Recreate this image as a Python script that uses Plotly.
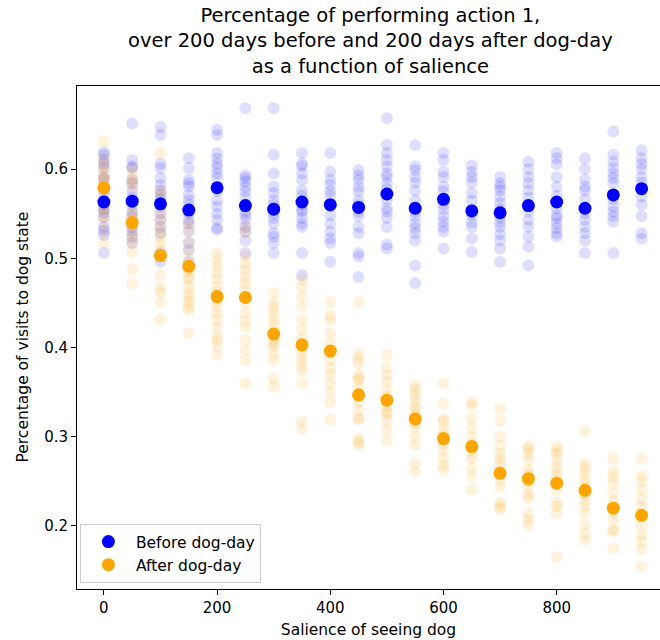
import plotly.graph_objects as go

salience = [0, 50, 100, 150, 200, 250, 300, 350, 400, 450,
            500, 550, 600, 650, 700, 750, 800, 850, 900, 950]

before_mean = [0.563, 0.564, 0.561, 0.554, 0.579, 0.559, 0.555, 0.563, 0.560, 0.557,
               0.572, 0.556, 0.566, 0.553, 0.551, 0.559, 0.563, 0.556, 0.571, 0.578]
after_mean = [0.579, 0.540, 0.503, 0.491, 0.457, 0.456, 0.415, 0.403, 0.396, 0.347,
              0.341, 0.320, 0.298, 0.289, 0.259, 0.253, 0.248, 0.240, 0.220, 0.212]

before_runs = [
    [0.619, 0.616, 0.610, 0.606, 0.601, 0.591, 0.588, 0.578, 0.573, 0.565, 0.559, 0.555, 0.551, 0.546, 0.535, 0.531, 0.526, 0.506],
    [0.651, 0.610, 0.603, 0.601, 0.588, 0.584, 0.575, 0.568, 0.560, 0.552, 0.547, 0.540, 0.535, 0.530, 0.524, 0.517],
    [0.647, 0.638, 0.606, 0.601, 0.590, 0.582, 0.576, 0.571, 0.566, 0.558, 0.550, 0.543, 0.535, 0.528, 0.506, 0.496],
    [0.612, 0.601, 0.588, 0.584, 0.580, 0.571, 0.565, 0.560, 0.550, 0.543, 0.539, 0.530, 0.517, 0.509, 0.496],
    [0.644, 0.638, 0.618, 0.612, 0.606, 0.601, 0.595, 0.590, 0.575, 0.565, 0.558, 0.550, 0.543, 0.534, 0.532],
    [0.668, 0.593, 0.590, 0.586, 0.580, 0.575, 0.568, 0.560, 0.552, 0.548, 0.543, 0.535, 0.530, 0.520, 0.506],
    [0.668, 0.616, 0.595, 0.580, 0.573, 0.565, 0.560, 0.550, 0.545, 0.539, 0.528, 0.524, 0.517, 0.506],
    [0.618, 0.606, 0.603, 0.595, 0.588, 0.576, 0.570, 0.560, 0.554, 0.552, 0.545, 0.539, 0.535, 0.506, 0.481],
    [0.618, 0.597, 0.588, 0.582, 0.575, 0.570, 0.558, 0.548, 0.539, 0.530, 0.522, 0.517, 0.496],
    [0.599, 0.593, 0.588, 0.580, 0.575, 0.565, 0.560, 0.552, 0.547, 0.535, 0.528, 0.506, 0.502, 0.479],
    [0.657, 0.627, 0.618, 0.610, 0.603, 0.595, 0.591, 0.584, 0.578, 0.565, 0.556, 0.552, 0.545, 0.535, 0.515, 0.511],
    [0.627, 0.603, 0.599, 0.591, 0.585, 0.576, 0.565, 0.552, 0.547, 0.539, 0.534, 0.528, 0.520, 0.492, 0.472],
    [0.618, 0.610, 0.597, 0.591, 0.580, 0.575, 0.560, 0.555, 0.547, 0.541, 0.535, 0.530, 0.511],
    [0.604, 0.597, 0.591, 0.585, 0.573, 0.565, 0.555, 0.548, 0.540, 0.535, 0.522, 0.507],
    [0.591, 0.584, 0.580, 0.576, 0.569, 0.562, 0.555, 0.546, 0.540, 0.535, 0.527, 0.520, 0.511, 0.496],
    [0.608, 0.600, 0.591, 0.584, 0.576, 0.568, 0.560, 0.552, 0.543, 0.535, 0.524, 0.513, 0.492],
    [0.618, 0.612, 0.605, 0.591, 0.580, 0.570, 0.556, 0.548, 0.545, 0.539, 0.534, 0.528, 0.524],
    [0.612, 0.600, 0.588, 0.580, 0.576, 0.566, 0.550, 0.543, 0.535, 0.528, 0.520, 0.506],
    [0.642, 0.616, 0.608, 0.601, 0.595, 0.590, 0.584, 0.566, 0.558, 0.552, 0.547, 0.541, 0.506],
    [0.621, 0.612, 0.606, 0.600, 0.591, 0.585, 0.569, 0.560, 0.547, 0.528, 0.522],
]

after_runs = [
    [0.631, 0.612, 0.605, 0.601, 0.595, 0.590, 0.588, 0.583, 0.572, 0.565, 0.560, 0.556, 0.552, 0.547, 0.540, 0.530, 0.517],
    [0.601, 0.593, 0.588, 0.584, 0.580, 0.565, 0.558, 0.550, 0.545, 0.535, 0.528, 0.522, 0.517, 0.507, 0.487, 0.472],
    [0.618, 0.576, 0.571, 0.560, 0.551, 0.543, 0.535, 0.530, 0.524, 0.517, 0.510, 0.481, 0.467, 0.462, 0.451, 0.431],
    [0.551, 0.539, 0.532, 0.520, 0.510, 0.500, 0.485, 0.479, 0.476, 0.468, 0.461, 0.457, 0.451, 0.446, 0.442, 0.416],
    [0.506, 0.498, 0.491, 0.483, 0.476, 0.468, 0.462, 0.452, 0.446, 0.438, 0.431, 0.423, 0.412, 0.408, 0.401, 0.392],
    [0.535, 0.528, 0.502, 0.494, 0.487, 0.479, 0.472, 0.465, 0.450, 0.438, 0.430, 0.423, 0.408, 0.397, 0.386, 0.360],
    [0.461, 0.450, 0.445, 0.438, 0.431, 0.425, 0.416, 0.408, 0.405, 0.401, 0.393, 0.386, 0.365, 0.356],
    [0.476, 0.468, 0.457, 0.446, 0.431, 0.420, 0.410, 0.400, 0.393, 0.386, 0.380, 0.373, 0.360, 0.317, 0.309],
    [0.451, 0.436, 0.431, 0.416, 0.405, 0.395, 0.386, 0.377, 0.370, 0.360, 0.350, 0.339, 0.319],
    [0.451, 0.393, 0.388, 0.382, 0.370, 0.365, 0.364, 0.355, 0.345, 0.339, 0.330, 0.321, 0.319, 0.298, 0.294, 0.291],
    [0.392, 0.378, 0.369, 0.362, 0.352, 0.345, 0.334, 0.328, 0.326, 0.319, 0.308, 0.296],
    [0.358, 0.352, 0.347, 0.341, 0.334, 0.330, 0.325, 0.315, 0.311, 0.300, 0.291, 0.270, 0.261],
    [0.360, 0.337, 0.320, 0.317, 0.308, 0.302, 0.292, 0.285, 0.276, 0.268, 0.263],
    [0.339, 0.335, 0.321, 0.310, 0.300, 0.292, 0.282, 0.276, 0.265, 0.256, 0.241],
    [0.331, 0.317, 0.300, 0.290, 0.281, 0.275, 0.270, 0.262, 0.252, 0.244, 0.226, 0.222, 0.219],
    [0.289, 0.286, 0.281, 0.274, 0.263, 0.258, 0.250, 0.244, 0.235, 0.231, 0.214, 0.207, 0.201],
    [0.289, 0.285, 0.281, 0.274, 0.266, 0.261, 0.255, 0.240, 0.226, 0.222, 0.214, 0.165],
    [0.306, 0.270, 0.265, 0.259, 0.252, 0.245, 0.235, 0.229, 0.222, 0.214, 0.201, 0.191, 0.184],
    [0.276, 0.261, 0.255, 0.248, 0.237, 0.228, 0.215, 0.207, 0.196, 0.194, 0.175],
    [0.276, 0.256, 0.250, 0.240, 0.230, 0.222, 0.212, 0.201, 0.190, 0.183, 0.174, 0.155],
]

title_text = ("Percentage of performing action 1,<br>"
              "over 200 days before and 200 days after dog-day<br>"
              "as a function of salience")
y_label = "Percentage of visits to dog state"
x_label = "Salience of seeing dog"


def flatten(xs, runs):
    fx, fy = [], []
    for x, vals in zip(xs, runs):
        for v in vals:
            fx.append(x)
            fy.append(v)
    return fx, fy


bx, by = flatten(salience, before_runs)
ax, ay = flatten(salience, after_runs)

fig = go.Figure()
fig.add_trace(go.Scatter(x=bx, y=by, mode="markers", showlegend=False, hoverinfo="skip",
                         marker=dict(color="blue", size=12, opacity=0.13, line=dict(width=0))))
fig.add_trace(go.Scatter(x=ax, y=ay, mode="markers", showlegend=False, hoverinfo="skip",
                         marker=dict(color="orange", size=12, opacity=0.13, line=dict(width=0))))
fig.add_trace(go.Scatter(x=salience, y=before_mean, mode="markers", name="Before dog-day",
                         marker=dict(color="blue", size=13, line=dict(width=0))))
fig.add_trace(go.Scatter(x=salience, y=after_mean, mode="markers", name="After dog-day",
                         marker=dict(color="orange", size=13, line=dict(width=0))))

font = "DejaVu Sans"
fig.add_annotation(text=title_text, xref="paper", yref="paper", x=0.5026, y=1,
                   xanchor="center", yanchor="bottom", yshift=6, showarrow=False,
                   align="center", font=dict(family=font, size=19.5, color="black"))
fig.add_annotation(text=y_label, xref="paper", yref="paper", x=0, y=0.5,
                   xanchor="center", yanchor="middle", xshift=-55, textangle=-90,
                   showarrow=False, font=dict(family=font, size=15.5, color="black"))

fig.update_layout(
    width=660, height=640,
    margin=dict(l=77, r=0, t=86, b=51),
    paper_bgcolor="white", plot_bgcolor="white",
    font=dict(family=font, size=15, color="black"),
    legend=dict(x=0.005, y=0.012, xanchor="left", yanchor="bottom",
                bgcolor="rgba(255,255,255,0.8)", bordercolor="#cccccc", borderwidth=1,
                font=dict(family=font, size=15.5), itemwidth=45, tracegroupgap=2),
    xaxis=dict(range=[-47.5, 982.5], tickvals=[0, 200, 400, 600, 800],
               showgrid=False, zeroline=False, showline=True, linecolor="black", linewidth=1,
               mirror=True, ticks="outside", ticklen=5, tickcolor="black",
               tickfont=dict(size=15),
               title=dict(text=x_label, font=dict(size=15.5), standoff=8)),
    yaxis=dict(range=[0.1294, 0.693], tickvals=[0.2, 0.3, 0.4, 0.5, 0.6],
               ticktext=["0.2", "0.3", "0.4", "0.5", "0.6"],
               showgrid=False, zeroline=False, showline=True, linecolor="black", linewidth=1,
               ticks="outside", ticklen=5, tickcolor="black",
               tickfont=dict(size=15)),
)

fig.write_html("out.html")
